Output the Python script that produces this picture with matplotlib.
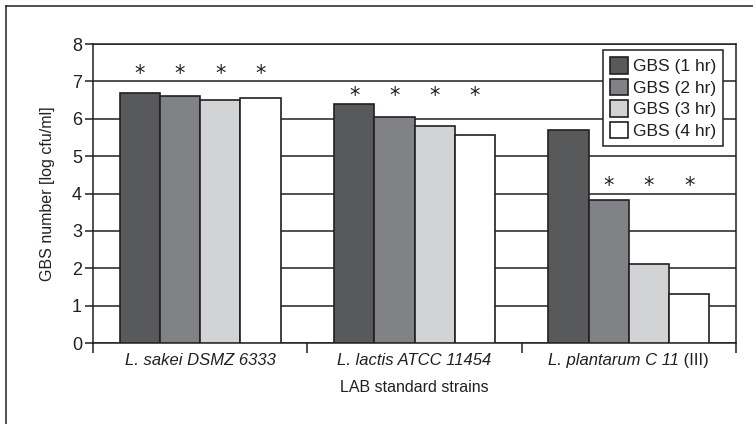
import matplotlib.pyplot as plt
import numpy as np
from matplotlib.lines import Line2D

plt.rcParams['font.family'] = ['Liberation Sans', 'DejaVu Sans']
edge = '#231f20'
plt.rcParams['text.color'] = edge
plt.rcParams['axes.labelcolor'] = edge
plt.rcParams['xtick.labelcolor'] = edge
plt.rcParams['ytick.labelcolor'] = edge

strains = ["L. sakei DSMZ 6333", "L. lactis ATCC 11454", "L. plantarum C 11"]
strain_suffix = ["", "", " (III)"]
series = ["GBS (1 hr)", "GBS (2 hr)", "GBS (3 hr)", "GBS (4 hr)"]
hr1 = [6.68, 6.39, 5.71]
hr2 = [6.62, 6.04, 3.82]
hr3 = [6.50, 5.80, 2.11]
hr4 = [6.56, 5.57, 1.32]
colors = ['#58595b', '#808285', '#d1d3d4', '#ffffff']
# asterisk levels per strain and which bars carry one
star_levels = [7.2, 6.6, 4.2]
star_marks = [[1, 1, 1, 1], [1, 1, 1, 1], [0, 1, 1, 1]]

fig = plt.figure(figsize=(7.53, 4.24), dpi=100)
ax = fig.add_axes([0.1235, 0.191, 0.854, 0.705])

x = np.arange(len(strains))
w = 0.1875
for i, vals in enumerate([hr1, hr2, hr3, hr4]):
    pos = x + (i - 1.5) * w
    ax.bar(pos, vals, w, color=colors[i], edgecolor=edge, linewidth=1.2,
           label=series[i], zorder=3)
    for j in range(len(strains)):
        if star_marks[j][i]:
            ax.text(pos[j], star_levels[j], "*", ha='center', va='center',
                    fontsize=15, color=edge, zorder=4, family='DejaVu Sans')

ax.set_xlim(-0.5, 2.5)
ax.set_ylim(0, 8)
ax.set_yticks(range(9))
ax.yaxis.grid(True, color=edge, linewidth=1.1, zorder=0)
ax.set_axisbelow(True)
ax.tick_params(axis='y', labelsize=13, length=6, width=1.1, color=edge, pad=2)
ax.set_xticks(x)
ax.set_xticklabels([])
ax.tick_params(axis='x', which='major', length=0)
ax.set_xticks([-0.5, 0.5, 1.5, 2.5], minor=True)
ax.tick_params(axis='x', which='minor', length=7, width=1.1, color=edge)
for s in ax.spines.values():
    s.set_color(edge)
    s.set_linewidth(1.1)

# category labels: italic name plus optional upright suffix
trans = ax.get_xaxis_transform()
for j in range(len(strains)):
    if strain_suffix[j]:
        t = ax.text(x[j] - 0.07, -0.035, strains[j], transform=trans, ha='center',
                    va='top', fontsize=12, style='italic')
        ax.annotate(strain_suffix[j], xy=(1, 0), xycoords=t, ha='left', va='bottom',
                    fontsize=12)
    else:
        ax.text(x[j], -0.035, strains[j], transform=trans, ha='center',
                va='top', fontsize=12, style='italic')

ax.set_ylabel("GBS number [log cfu/ml]", fontsize=11.5, labelpad=12)
ax.set_xlabel("LAB standard strains", fontsize=11.5, labelpad=16)

leg = ax.legend(loc='upper right', bbox_to_anchor=(0.98, 0.98), fontsize=12.5,
                frameon=True, fancybox=False, edgecolor=edge, framealpha=1,
                handlelength=1.0, handleheight=1.1, handletextpad=0.3,
                labelspacing=0.25, borderpad=0.4, borderaxespad=0)
leg.get_frame().set_linewidth(1.1)

# outer frame (left and top edges)
fig.add_artist(Line2D([6 / 753, 6 / 753], [0, 1 - 6 / 424], color=edge, lw=1.1))
fig.add_artist(Line2D([6 / 753, 1], [1 - 6 / 424, 1 - 6 / 424], color=edge, lw=1.1))

fig.savefig("out.png", dpi=100)
